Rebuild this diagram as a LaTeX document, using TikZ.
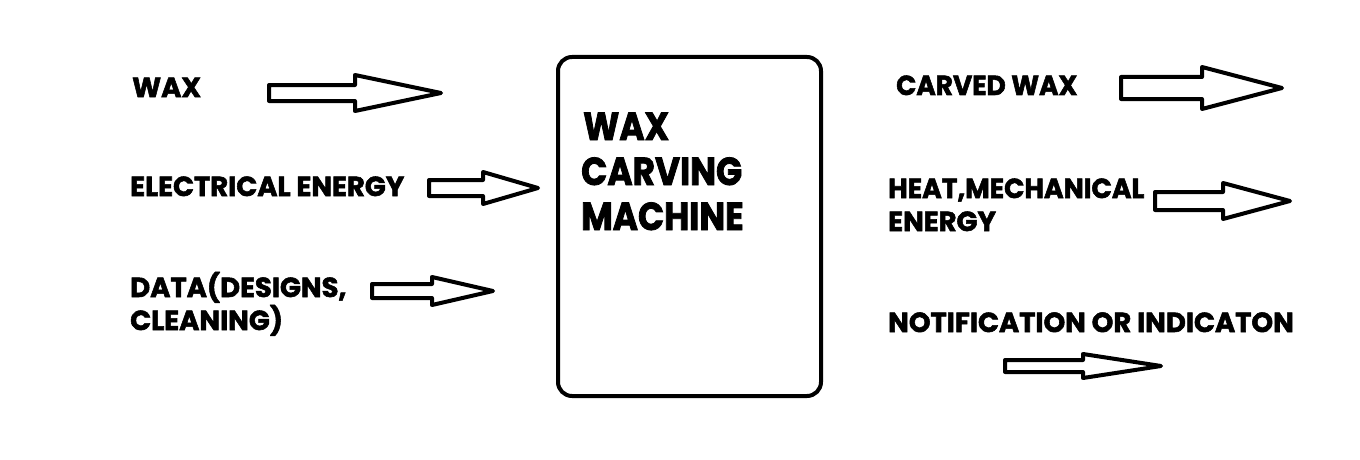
\documentclass[tikz,border=0pt]{standalone}
\usepackage{fontspec}
\setmainfont{Poppins}[BoldFeatures={FakeBold=2}]
\newcommand\blockarrowcmd[7]{% name, x0, xh, xt, ymid, shaft half, head half
  \draw[barrow] (#2,#5-#6) coordinate (#1s) -- (#3,#5-#6) -- (#3,#5-#7) -- (#4,#5) coordinate (#1t)
    -- (#3,#5+#7) -- (#3,#5+#6) -- (#2,#5+#6) -- cycle;}
\begin{document}
\begin{tikzpicture}[x=1pt,y=-1pt,
  barrow/.style={line width=4pt,line join=round,draw=black,fill=white},
  lab/.style={anchor=base west,inner sep=0pt,font=\fontsize{27.5}{33}\selectfont\bfseries,align=left},
  big/.style={anchor=base west,inner sep=0pt,font=\fontsize{39}{45}\selectfont\bfseries\addfontfeatures{FakeStretch=0.88},align=left},
  machine/.style={line width=4pt,draw=black,rounded corners=14pt}]
\useasboundingbox (0,0) rectangle (1360,460);
\fill[white] (0,0) rectangle (1360,460);
% central box
\draw[machine] (558,57) rectangle (821,396);
\node[big] (title) at (581,230) {\hspace{2pt}WAX\\CARVING\\MACHINE};
% inputs
\node[lab] (wax) at (132,97) {WAX};
\node[lab] (elec) at (130,196) {ELECTRICAL ENERGY};
\node[lab] (data) at (130,330) {DATA(DESIGNS,\\CLEANING)};
\blockarrowcmd{a1}{269}{355}{441}{93}{8}{18}
\blockarrowcmd{a2}{429}{483}{538}{188}{8}{16}
\blockarrowcmd{a3}{372}{432}{493}{291}{7}{14}
% outputs
\node[lab] (carved) at (896,95) {\addfontfeatures{FakeStretch=0.96}CARVED WAX};
\node[lab] (heat) at (888,231) {\addfontfeatures{FakeStretch=0.97}HEAT,MECHANICAL\\ENERGY};
\node[lab] (notif) at (888,332) {NOTIFICATION OR INDICATON};
\blockarrowcmd{a4}{1121}{1202}{1282}{88}{11}{21}
\blockarrowcmd{a5}{1155}{1223}{1290}{201}{9}{18}
\blockarrowcmd{a6}{1005}{1083}{1161}{366}{6}{12}
\end{tikzpicture}
\end{document}
